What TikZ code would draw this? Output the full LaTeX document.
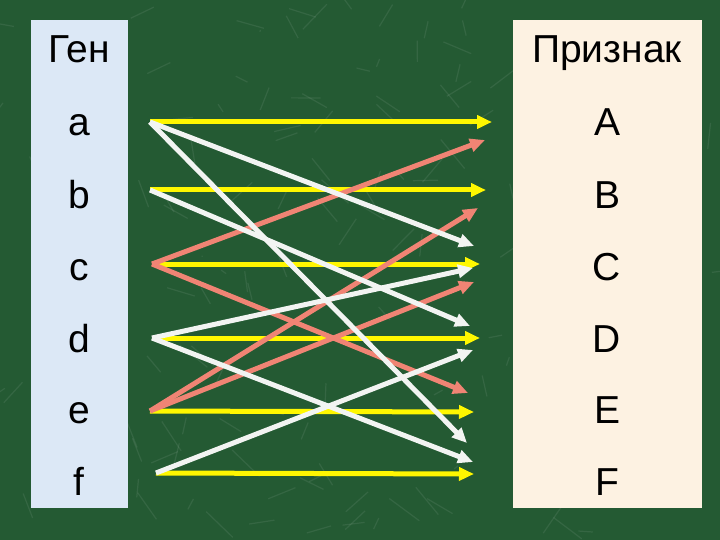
\documentclass[tikz,border=0pt]{standalone}
\usepackage{fontspec}
\setmainfont{Liberation Sans}
\usetikzlibrary{arrows.meta}
\definecolor{bggreen}{HTML}{245A33}
\definecolor{genblue}{HTML}{DCE8F6}
\definecolor{trcream}{HTML}{FDF2E2}
\definecolor{ayellow}{HTML}{FFF700}
\definecolor{asalmon}{HTML}{F08474}
\definecolor{awhite}{HTML}{F2F4F2}
\tikzset{
  lbl/.style={anchor=base, inner sep=0pt, font=\fontsize{39}{45}\selectfont, text=black},
  arr/.style={line width=5pt, -{Triangle[length=15pt,width=13pt]}},
  yel/.style={arr, draw=ayellow},
  sal/.style={arr, draw=asalmon},
  wht/.style={arr, draw=awhite},
}
\begin{document}
\begin{tikzpicture}[x=1pt,y=-1pt]
\useasboundingbox (0,0) rectangle (720,540);
\fill[bggreen] (0,0) rectangle (720,540);
% subtle marble texture
\pgfmathsetseed{7}
\foreach \i in {1,...,160}{
  \pgfmathsetmacro{\xa}{rnd*720}
  \pgfmathsetmacro{\ya}{rnd*540}
  \pgfmathsetmacro{\dx}{(rnd-0.5)*60}
  \pgfmathsetmacro{\dy}{(rnd-0.5)*60}
  \draw[white, opacity=0.08, line width=1.2pt] (\xa,\ya) -- ++(\dx,\dy);
}
\fill[genblue] (31,20) rectangle (128,508);
\fill[trcream] (513,20) rectangle (702,508);
% labels
\node[lbl] (gen) at (79,63) {Ген};
\node[lbl] (ga) at (79,136) {a};
\node[lbl] (gb) at (79,208) {b};
\node[lbl] (gc) at (79,280) {c};
\node[lbl] (gd) at (79,352) {d};
\node[lbl] (ge) at (79,423) {e};
\node[lbl] (gf) at (79,495) {f};
\node[lbl] (pr) at (607,63) {Признак};
\node[lbl] (pA) at (607,136) {A};
\node[lbl] (pB) at (607,208) {B};
\node[lbl] (pC) at (607,280) {C};
\node[lbl] (pD) at (607,352) {D};
\node[lbl] (pE) at (607,423) {E};
\node[lbl] (pF) at (607,495) {F};
% start coordinates
\coordinate (sa) at (150,122);
\coordinate (sb) at (150,190);
\coordinate (sc) at (152,264);
\coordinate (sd) at (152,338);
\coordinate (se) at (150,411);
\coordinate (sf) at (156,473);
% end coordinates
\coordinate (yA) at (492,122);
\coordinate (yB) at (486,190);
\coordinate (yC) at (480,264);
\coordinate (yD) at (480,338);
\coordinate (yE) at (474,412);
\coordinate (yF) at (474,474);
\coordinate (w1) at (474,246);
\coordinate (w2) at (467,443);
\coordinate (w3) at (470,326);
\coordinate (w4) at (473,268);
\coordinate (w5) at (473,462);
\coordinate (w6) at (473,350);
\coordinate (s1) at (485,140);
\coordinate (s2) at (468,393);
\coordinate (s3) at (478,208);
\coordinate (s4) at (474,282);
% yellow
\draw[yel] (sa) -- (yA);
\draw[yel] (sb) -- (yB);
\draw[yel] (sc) -- (yC);
\draw[yel] (sd) -- (yD);
\draw[yel] (se) -- (yE);
\draw[yel] (sf) -- (yF);
% salmon
\draw[sal] (sc) -- (s1);
\draw[sal] (sc) -- (s2);
\draw[sal] (se) -- (s3);
\draw[sal] (se) -- (s4);
% white
\draw[wht] (sa) -- (w1);
\draw[wht] (sa) -- (w2);
\draw[wht] (sb) -- (w3);
\draw[wht] (sd) -- (w4);
\draw[wht] (sd) -- (w5);
\draw[wht] (sf) -- (w6);
\end{tikzpicture}
\end{document}
